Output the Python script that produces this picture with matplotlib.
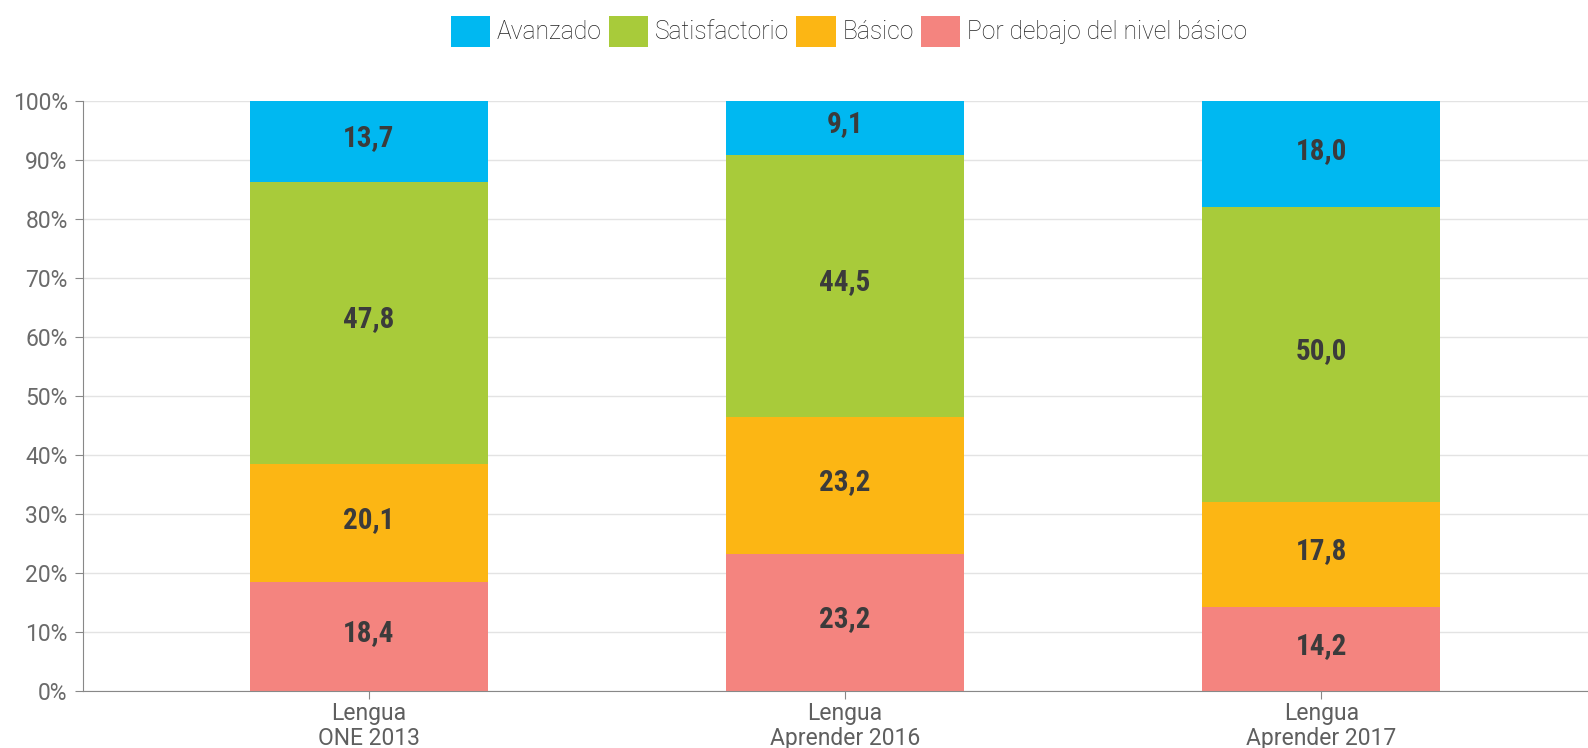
import matplotlib
matplotlib.use("Agg")
import matplotlib.pyplot as plt
import numpy as np
from matplotlib.patches import Patch

categories = ["Lengua\nONE 2013", "Lengua\nAprender 2016", "Lengua\nAprender 2017"]
series_names = ["Avanzado", "Satisfactorio", "Básico", "Por debajo del nivel básico"]
por_debajo = [18.4, 23.2, 14.2]
basico = [20.1, 23.2, 17.8]
satisfactorio = [47.8, 44.5, 50.0]
avanzado = [13.7, 9.1, 18.0]
colors = {"Avanzado": "#00B8F1", "Satisfactorio": "#A8CB3A",
          "Básico": "#FCB614", "Por debajo del nivel básico": "#F4847F"}

plt.rcParams['font.family'] = ['Roboto', 'DejaVu Sans']

fig = plt.figure(figsize=(15.88, 7.48), dpi=100)
ax = fig.add_axes([83/1588, 1 - 691/748, 1 - 83/1588, (691 - 101)/748])

x = np.arange(len(categories))
stack_order = [("Por debajo del nivel básico", por_debajo), ("Básico", basico),
               ("Satisfactorio", satisfactorio), ("Avanzado", avanzado)]
bottom = np.zeros(len(categories))
for name, vals in stack_order:
    vals = np.array(vals)
    ax.bar(x, vals, 0.5, bottom=bottom, color=colors[name], zorder=2)
    for xi, b, v in zip(x, bottom, vals):
        ax.annotate(f"{v:.1f}".replace(".", ","), (xi, b + v / 2), xytext=(0, 2.5),
                    textcoords="offset points", ha="center", va="center",
                    fontsize=21, fontweight="bold", color="#3b3b3b", zorder=3,
                    family=['Roboto Condensed', 'Liberation Sans Narrow', 'Roboto', 'DejaVu Sans'])
    bottom += vals

ax.set_xlim(-0.6, 2.56)
ax.set_ylim(0, 100)
ax.set_yticks(np.arange(0, 101, 10))
ax.set_yticklabels([f"{v}%" for v in range(0, 101, 10)])
ax.set_xticks(x)
ax.set_xticklabels(categories)
ax.tick_params(axis="y", length=6, color="#888888", labelsize=16.5, labelcolor="#6a6a6a", pad=5)
ax.tick_params(axis="x", length=6, color="#888888", labelsize=16.5, labelcolor="#5f5f5f", pad=2)
for lab in ax.get_xticklabels():
    lab.set_linespacing(1.1)
ax.yaxis.grid(True, color="#e3e3e3", linewidth=1, zorder=0)
ax.set_axisbelow(True)
for s in ["top", "right"]:
    ax.spines[s].set_visible(False)
ax.spines["left"].set_color("#888888")
ax.spines["bottom"].set_color("#888888")

handles = [Patch(facecolor=colors[n], edgecolor="none") for n in series_names]
leg = fig.legend(handles, series_names, loc="center", bbox_to_anchor=(0.5346, 0.958), ncol=4,
                 frameon=False, fontsize=17.7, handlelength=1.59, handleheight=1.59,
                 handletextpad=0.28, columnspacing=0.3)
for t in leg.get_texts():
    t.set_color("#222222")
    t.set_fontweight("light")

fig.savefig("out.png", dpi=100)
